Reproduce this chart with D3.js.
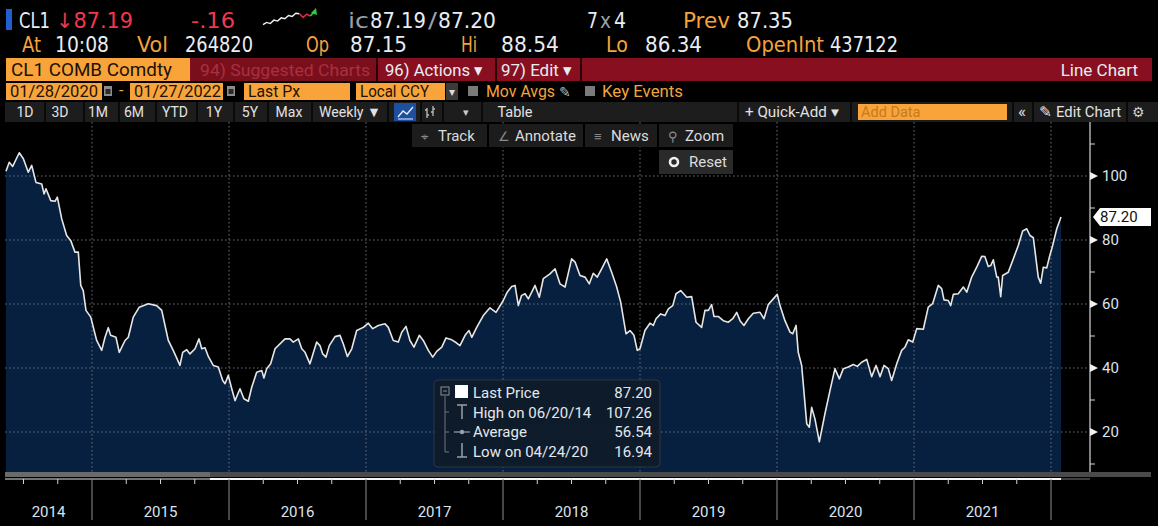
<!DOCTYPE html>
<html>
<head>
<meta charset="utf-8">
<script src="https://cdn.jsdelivr.net/npm/d3@7"></script>
<style>
  body { margin: 0; background: #000; overflow: hidden; }
  svg { display: block; }
  text { font-family: Roboto, "Open Sans", sans-serif; }
</style>
</head>
<body>
<svg id="chart" width="1158" height="526"></svg>
<script>
// CL1 weekly last px (time as decimal year)
var weekT = [
  2014.372, 2014.396, 2014.421, 2014.469, 2014.499, 2014.535, 2014.560, 2014.591, 2014.633, 2014.650,
  2014.664, 2014.699, 2014.730, 2014.747, 2014.779, 2014.815, 2014.845, 2014.876, 2014.900, 2014.918,
  2014.936, 2014.956, 2014.991, 2015.034, 2015.071, 2015.095, 2015.119, 2015.136, 2015.175, 2015.199,
  2015.241, 2015.265, 2015.301, 2015.345, 2015.411, 2015.472, 2015.509, 2015.557, 2015.593, 2015.642,
  2015.662, 2015.691, 2015.715, 2015.752, 2015.781, 2015.801, 2015.825, 2015.849, 2015.885, 2015.922,
  2015.954, 2015.971, 2015.995, 2016.020, 2016.044, 2016.080, 2016.109, 2016.141, 2016.166, 2016.202,
  2016.239, 2016.255, 2016.275, 2016.304, 2016.336, 2016.409, 2016.445, 2016.469, 2016.506, 2016.531,
  2016.555, 2016.591, 2016.640, 2016.664, 2016.684, 2016.708, 2016.732, 2016.774, 2016.810, 2016.834,
  2016.864, 2016.896, 2016.932, 2016.980, 2017.017, 2017.049, 2017.090, 2017.139, 2017.163, 2017.199,
  2017.236, 2017.261, 2017.292, 2017.321, 2017.350, 2017.389, 2017.418, 2017.455, 2017.487, 2017.516,
  2017.553, 2017.584, 2017.626, 2017.662, 2017.686, 2017.723, 2017.752, 2017.772, 2017.808, 2017.856,
  2017.905, 2017.949, 2018.002, 2018.031, 2018.064, 2018.088, 2018.112, 2018.136, 2018.161, 2018.185,
  2018.234, 2018.265, 2018.294, 2018.343, 2018.380, 2018.416, 2018.453, 2018.501, 2018.526, 2018.562,
  2018.599, 2018.630, 2018.659, 2018.688, 2018.720, 2018.757, 2018.793, 2018.830, 2018.859, 2018.898,
  2018.927, 2018.956, 2018.980, 2019.000, 2019.036, 2019.073, 2019.097, 2019.117, 2019.151, 2019.182,
  2019.207, 2019.239, 2019.263, 2019.297, 2019.341, 2019.377, 2019.409, 2019.450, 2019.474, 2019.499,
  2019.523, 2019.540, 2019.571, 2019.608, 2019.645, 2019.677, 2019.706, 2019.730, 2019.759, 2019.791,
  2019.827, 2019.876, 2019.905, 2019.936, 2019.973, 2020.002, 2020.022, 2020.058, 2020.095, 2020.115,
  2020.139, 2020.155, 2020.180, 2020.217, 2020.236, 2020.253, 2020.277, 2020.309, 2020.350, 2020.387,
  2020.423, 2020.455, 2020.484, 2020.520, 2020.557, 2020.586, 2020.618, 2020.655, 2020.691, 2020.723,
  2020.752, 2020.781, 2020.812, 2020.837, 2020.874, 2020.910, 2020.934, 2020.958, 2020.991, 2021.020,
  2021.068, 2021.104, 2021.136, 2021.177, 2021.202, 2021.219, 2021.250, 2021.268, 2021.287, 2021.323,
  2021.360, 2021.385, 2021.421, 2021.458, 2021.494, 2021.518, 2021.542, 2021.560, 2021.579, 2021.604,
  2021.615, 2021.633, 2021.647, 2021.688, 2021.725, 2021.761, 2021.793, 2021.823, 2021.847, 2021.871,
  2021.907, 2021.925, 2021.944, 2021.969, 2021.988, 2022.012, 2022.042, 2022.073
];
var lastPx = [
  101.5, 104.3, 103.0, 107.26, 105.4, 101.2, 103.3, 98.0, 97.5, 94.4,
  96.0, 92.3, 92.1, 93.4, 86.6, 81.4, 79.8, 76.2, 76.2, 65.8,
  64.2, 58.0, 55.9, 48.6, 45.5, 49.6, 52.6, 50.2, 49.6, 44.9,
  48.6, 49.6, 55.9, 59.0, 60.1, 59.5, 58.0, 48.6, 45.5, 40.8,
  44.9, 45.7, 44.4, 46.0, 49.1, 46.0, 46.3, 43.6, 40.8, 40.3,
  36.1, 35.1, 37.7, 33.5, 29.8, 33.5, 30.4, 29.6, 34.0, 38.7,
  39.2, 36.9, 39.8, 41.3, 46.0, 49.1, 49.1, 48.1, 49.1, 46.0,
  44.9, 41.3, 48.1, 47.0, 44.4, 43.4, 47.0, 49.8, 50.2, 47.6,
  43.6, 46.0, 51.7, 52.7, 54.0, 52.3, 53.3, 53.8, 52.7, 48.6,
  48.1, 51.2, 53.0, 48.6, 46.5, 50.2, 48.6, 45.5, 43.4, 45.2,
  46.5, 49.4, 48.8, 47.8, 47.0, 50.2, 51.7, 49.6, 52.7, 56.4,
  58.8, 57.4, 61.1, 63.7, 65.5, 65.8, 59.5, 62.7, 63.2, 61.6,
  65.8, 62.1, 67.9, 69.4, 71.0, 66.3, 65.3, 74.1, 73.1, 68.9,
  68.4, 66.3, 69.6, 68.4, 71.0, 74.1, 69.9, 65.3, 60.6, 50.7,
  51.7, 50.2, 45.5, 46.0, 51.7, 54.0, 53.3, 55.4, 56.9, 56.4,
  58.5, 59.5, 63.2, 64.2, 62.1, 62.3, 54.3, 52.7, 58.0, 58.0,
  59.8, 56.1, 56.1, 54.8, 54.3, 55.4, 57.4, 54.8, 53.3, 55.4,
  57.1, 57.4, 55.4, 59.8, 61.6, 63.0, 59.5, 54.8, 51.2, 50.7,
  53.3, 44.9, 40.8, 22.6, 21.5, 27.7, 24.1, 16.94, 25.7, 33.0,
  39.8, 36.6, 39.8, 40.3, 41.1, 40.5, 41.8, 42.7, 37.3, 40.8,
  37.3, 40.8, 39.8, 36.1, 41.3, 45.5, 46.5, 48.8, 48.1, 52.3,
  52.1, 59.0, 60.1, 65.8, 64.8, 61.3, 61.1, 59.5, 63.0, 63.2,
  65.3, 63.7, 68.4, 71.5, 74.9, 74.8, 71.7, 72.0, 73.8, 68.4,
  68.4, 62.3, 68.9, 69.9, 74.1, 78.3, 82.8, 83.5, 81.4, 80.7,
  68.4, 66.5, 71.5, 71.3, 74.6, 78.3, 83.5, 87.20
];

var yearStarts = [2014, 2015, 2016, 2017, 2018, 2019, 2020, 2021, 2022];
var yearLabels = ["2014", "2015", "2016", "2017", "2018", "2019", "2020", "2021"];
var yMajor = [20, 40, 60, 80, 100];
var yMinor = [10, 30, 50, 70, 90, 110];

var legendNames = ["Last Price", "High on 06/20/14", "Average", "Low on 04/24/20"];
var legendVals = ["87.20", "107.26", "56.54", "16.94"];

// little intraday sparkline in the header
var sparkVals = [1, 2, 1.5, 3, 2.6, 4, 3.6, 5, 4.6, 6, 5.8, 4.2, 5.6, 4.8, 6.6];

var orange = "#f5a33b", boxOrange = "#f8a43a", ink = "#1d1206";
var white = "#e8edf3", red = "#f2374d";

var svg = d3.select("#chart");

function txt(g, x, y, s, o) {
  o = o || {};
  var t = g.append("text")
    .attr("x", x).attr("y", y)
    .attr("fill", o.fill || white)
    .attr("font-size", o.size || 16)
    .attr("text-anchor", o.anchor || "start")
    .text(s);
  if (o.w) t.attr("textLength", o.w).attr("lengthAdjust", "spacingAndGlyphs");
  if (o.family) t.style("font-family", o.family);
  if (o.weight) t.attr("font-weight", o.weight);
  return t;
}

/* ---------- header: quote lines ---------- */
var hdr = svg.append("g");
var mono = "'DejaVu Sans', sans-serif";
hdr.append("rect").attr("x", 6).attr("y", 9).attr("width", 6).attr("height", 21).attr("fill", "#1f5fd0");

var row1 = [
  ["CL1", 19, 31, white], ["\u219387.19", 56, 77, red], ["-.16", 191, 44, red],
  ["ic", 348, 21, "#9aa0a8"], ["87.19", 370, 56, white], ["/", 428, 9, "#9aa0a8"], ["87.20", 438, 58, white],
  ["7", 587, 11, white], ["x", 600, 11, "#9aa0a8"], ["4", 614, 12, white],
  ["Prev", 683, 47, orange], ["87.35", 737, 56, white]
];
row1.forEach(function(d) { txt(hdr, d[1], 28, d[0], { fill: d[3], size: 21, w: d[2], family: mono }); });

var row2 = [
  ["At", 22, 19, orange], ["10:08", 55, 54, white], ["Vol", 137, 31, orange], ["264820", 185, 68, white],
  ["Op", 306, 23, orange], ["87.15", 350, 57, white], ["Hi", 461, 16, orange], ["88.54", 501, 58, white],
  ["Lo", 606, 22, orange], ["86.34", 645, 57, white], ["OpenInt", 746, 78, orange], ["437122", 830, 68, white]
];
row2.forEach(function(d) { txt(hdr, d[1], 52, d[0], { fill: d[3], size: 21, w: d[2], family: mono }); });

// sparkline
var sx = d3.scaleLinear().domain([0, sparkVals.length - 1]).range([263, 314]);
var sy = d3.scaleLinear().domain([0, 7]).range([27, 11]);
var sLine = d3.line().x(function(d, i) { return sx(i); }).y(function(d) { return sy(d); });
hdr.append("path").datum(sparkVals.slice(0, 11)).attr("d", sLine)
  .attr("fill", "none").attr("stroke", "#f2f2f2").attr("stroke-width", 1.4);
hdr.append("path").datum(sparkVals.slice(10, 14))
  .attr("d", d3.line().x(function(d, i) { return sx(i + 10); }).y(function(d) { return sy(d); }))
  .attr("fill", "none").attr("stroke", "#e8263a").attr("stroke-width", 1.6);
hdr.append("path")
  .attr("d", "M" + sx(13) + "," + sy(4.8) + "L" + sx(14) + "," + sy(6.6))
  .attr("stroke", "#2ecc40").attr("stroke-width", 1.6);
hdr.append("path")
  .attr("d", "M" + (sx(14) - 3) + "," + (sy(6.6) + 1) + "L" + (sx(14) + 2) + "," + (sy(6.6) - 4) + "L" + (sx(14) + 3) + "," + (sy(6.6) + 3) + "Z")
  .attr("fill", "#2ecc40");

/* ---------- row 3: security + red menu bar ---------- */
var r3 = svg.append("g");
r3.append("rect").attr("x", 6).attr("y", 58).attr("width", 184).attr("height", 23).attr("fill", boxOrange);
txt(r3, 11, 76, "CL1 COMB Comdty", { fill: ink, size: 18, w: 161 });
r3.append("rect").attr("x", 190).attr("y", 58).attr("width", 962).attr("height", 23).attr("fill", "#870f1f");
r3.append("rect").attr("x", 191).attr("y", 58).attr("width", 185).attr("height", 23).attr("fill", "#7a0f1c");
[376, 495, 580].forEach(function(x) {
  r3.append("rect").attr("x", x).attr("y", 58).attr("width", 2).attr("height", 23).attr("fill", "#2a0308");
});
txt(r3, 200, 76, "94) Suggested Charts", { fill: "#a8303f", size: 17, w: 170 });
txt(r3, 385, 76, "96) Actions \u25BE", { fill: white, size: 17, w: 98 });
txt(r3, 501, 76, "97) Edit \u25BE", { fill: white, size: 17, w: 71 });
txt(r3, 1138, 76, "Line Chart", { fill: white, size: 17, anchor: "end" });

/* ---------- row 4: date range / fields ---------- */
var r4 = svg.append("g");
function obox(x, w, s, tw) {
  r4.append("rect").attr("x", x).attr("y", 83).attr("width", w).attr("height", 17).attr("fill", boxOrange);
  txt(r4, x + 4, 97, s, { fill: ink, size: 16, w: tw });
}
function calIcon(x) {
  r4.append("rect").attr("x", x).attr("y", 86).attr("width", 8).attr("height", 10).attr("fill", "#8c8c8c");
  r4.append("rect").attr("x", x + 1.5).attr("y", 89).attr("width", 5).attr("height", 5).attr("fill", "#2a2a2a");
}
obox(6, 96, "01/28/2020", 88);
calIcon(104);
txt(r4, 119, 96, "-", { fill: orange, size: 16 });
obox(130, 93, "01/27/2022", 87);
calIcon(227);
obox(244, 106, "Last Px", 52);
obox(356, 89, "Local CCY", 69);
r4.append("rect").attr("x", 446).attr("y", 83).attr("width", 12).attr("height", 17).attr("fill", "#3a3a3a");
txt(r4, 452, 96, "\u25BE", { fill: "#ddd", size: 12, anchor: "middle" });
r4.append("rect").attr("x", 468).attr("y", 86).attr("width", 10).attr("height", 10).attr("fill", "#7a7a7a");
txt(r4, 486, 97, "Mov Avgs", { fill: orange, size: 16, w: 69 });
txt(r4, 559, 97, "\u270E", { fill: "#bbb", size: 14 });
r4.append("rect").attr("x", 585).attr("y", 86).attr("width", 10).attr("height", 10).attr("fill", "#7a7a7a");
txt(r4, 602, 97, "Key Events", { fill: orange, size: 16, w: 81 });

/* ---------- row 5: toolbar ---------- */
var r5 = svg.append("g");
r5.append("rect").attr("x", 5).attr("y", 102).attr("width", 1153).attr("height", 20).attr("fill", "#1d1d1d");
[44, 83, 118, 155, 196, 233, 267, 311, 387, 420, 442, 481, 737, 850, 1012, 1032, 1126].forEach(function(x) {
  r5.append("rect").attr("x", x).attr("y", 102).attr("width", 2).attr("height", 20).attr("fill", "#0a0a0a");
});
var tools = [["1D", 25], ["3D", 60], ["1M", 98], ["6M", 134], ["YTD", 175], ["1Y", 214], ["5Y", 250], ["Max", 289]];
tools.forEach(function(d) { txt(r5, d[1], 117, d[0], { fill: "#e2e2e2", size: 14, anchor: "middle" }); });
txt(r5, 319, 117, "Weekly \u25BC", { fill: "#e2e2e2", size: 14.5, w: 62 });
r5.append("rect").attr("x", 394).attr("y", 103).attr("width", 22).attr("height", 18).attr("fill", "#1d4f9e");
r5.append("path").attr("d", "M398,117 L403,111 L407,114 L413,107").attr("fill", "none")
  .attr("stroke", "#eaf0ff").attr("stroke-width", 1.3);
r5.append("path").attr("d", "M398,119 H413").attr("stroke", "#eaf0ff").attr("stroke-width", 1);
r5.append("path").attr("d", "M427,108 V118 M425,110 H427 M427,115 H429 M433,106 V116 M431,112 H433 M433,109 H435")
  .attr("stroke", "#bdbdbd").attr("stroke-width", 1.3).attr("fill", "none");
txt(r5, 466, 116, "\u25BE", { fill: "#ccc", size: 11, anchor: "middle" });
txt(r5, 515, 117, "Table", { fill: "#e2e2e2", size: 14.5, anchor: "middle" });
txt(r5, 745, 117, "+ Quick-Add \u25BE", { fill: "#e2e2e2", size: 14.5, w: 94 });
r5.append("rect").attr("x", 858).attr("y", 104).attr("width", 149).attr("height", 16).attr("fill", boxOrange);
txt(r5, 861, 117, "Add Data", { fill: "#c47a1c", size: 14.5 });
txt(r5, 1022, 117, "\u00AB", { fill: "#e2e2e2", size: 17, anchor: "middle" });
txt(r5, 1039, 117, "\u270E Edit Chart", { fill: "#e2e2e2", size: 14.5, w: 82 });
txt(r5, 1138, 117, "\u2699", { fill: "#d0d0d0", size: 14, anchor: "middle" });

/* ---------- chart ---------- */
var plotTop = 122, plotBottom = 472, plotLeft = 5, axisX = 1090;

var x = d3.scaleLinear().domain([2015, 2022]).range([92, 1051]);
var y = d3.scaleLinear().domain([20, 100]).range([432, 176]);

var series = weekT.map(function(t, i) { return { t: t, v: lastPx[i] }; });

svg.append("path").datum(series)
  .attr("d", d3.area().x(function(d) { return x(d.t); }).y0(plotBottom).y1(function(d) { return y(d.v); }))
  .attr("fill", "#08203f");

// dotted grid
var grid = svg.append("g").attr("stroke", "#6b717a").attr("stroke-width", 1).attr("stroke-dasharray", "1.5,2.5");
grid.selectAll("line.h").data(yMajor).enter().append("line")
  .attr("x1", plotLeft).attr("x2", axisX - 2)
  .attr("y1", function(d) { return y(d); }).attr("y2", function(d) { return y(d); });
grid.selectAll("line.v").data(yearStarts.slice(1)).enter().append("line")
  .attr("y1", plotTop).attr("y2", plotBottom)
  .attr("x1", function(d) { return x(d); }).attr("x2", function(d) { return x(d); });

svg.append("path").datum(series)
  .attr("d", d3.line().x(function(d) { return x(d.t); }).y(function(d) { return y(d.v); }))
  .attr("fill", "none").attr("stroke", "#e6e6e6").attr("stroke-width", 1.6)
  .attr("stroke-linejoin", "round");

/* floating chart buttons */
var fb = svg.append("g");
var fbtn = [["\u2316", "Track", 412, 75], ["\u2220", "Annotate", 489, 94], ["\u2261", "News", 585, 72], ["\u26B2", "Zoom", 659, 74]];
fbtn.forEach(function(d) {
  fb.append("rect").attr("x", d[2]).attr("y", 124).attr("width", d[3]).attr("height", 23).attr("fill", "#1c1c1c");
  txt(fb, d[2] + 9, 141, d[0], { fill: "#8a8a8a", size: 13 });
  txt(fb, d[2] + 26, 141, d[1], { fill: "#dcdcdc", size: 15 });
});
fb.append("rect").attr("x", 659).attr("y", 150).attr("width", 74).attr("height", 24).attr("fill", "#2a2a2a");
fb.append("circle").attr("cx", 674).attr("cy", 162).attr("r", 4).attr("fill", "none")
  .attr("stroke", "#f0f0f0").attr("stroke-width", 2.6);
txt(fb, 689, 167, "Reset", { fill: "#dcdcdc", size: 15 });

/* legend */
var lg = svg.append("g");
lg.append("rect").attr("x", 434).attr("y", 380).attr("width", 226).attr("height", 87).attr("rx", 4)
  .attr("fill", "#101b29").attr("fill-opacity", 0.9).attr("stroke", "#2d3642");
lg.append("rect").attr("x", 441).attr("y", 387).attr("width", 8).attr("height", 8).attr("fill", "none").attr("stroke", "#8a8f96");
lg.append("line").attr("x1", 443).attr("x2", 447).attr("y1", 391).attr("y2", 391).attr("stroke", "#8a8f96");
lg.append("path").attr("d", "M445,396 V452 M445,412 H449 M445,432 H449 M445,452 H449")
  .attr("stroke", "#6f757c").attr("fill", "none");
lg.append("rect").attr("x", 455).attr("y", 385).attr("width", 13).attr("height", 13).attr("fill", "#fff");
lg.append("path").attr("d", "M457,405 H467 M462,405 V419").attr("stroke", "#9aa0a8").attr("stroke-width", 1.5);
lg.append("path").attr("d", "M454,432 H470").attr("stroke", "#9aa0a8").attr("stroke-width", 1.2);
lg.append("circle").attr("cx", 462).attr("cy", 432).attr("r", 2.2).attr("fill", "#9aa0a8");
lg.append("path").attr("d", "M462,443 V457 M457,457 H467").attr("stroke", "#9aa0a8").attr("stroke-width", 1.5);
legendNames.forEach(function(n, i) {
  var yy = 398 + i * 19.5;
  txt(lg, 473, yy, n, { fill: "#e4e8ee", size: 15 });
  txt(lg, 652, yy, legendVals[i], { fill: "#e4e8ee", size: 15, anchor: "end" });
});

/* right value axis */
var ax = svg.append("g");
ax.append("line").attr("x1", axisX).attr("x2", axisX).attr("y1", plotTop).attr("y2", plotBottom)
  .attr("stroke", "#d8d8d8").attr("stroke-width", 1.2);
ax.selectAll("line.mn").data(yMinor).enter().append("line")
  .attr("x1", axisX).attr("x2", axisX + 5)
  .attr("y1", function(d) { return y(d); }).attr("y2", function(d) { return y(d); })
  .attr("stroke", "#d8d8d8");
ax.selectAll("path.mj").data(yMajor).enter().append("path")
  .attr("d", function(d) { var yy = y(d); return "M" + axisX + "," + (yy - 4) + "L" + (axisX + 8) + "," + yy + "L" + axisX + "," + (yy + 4) + "Z"; })
  .attr("fill", "#f0f0f0");
var yAxis = d3.axisRight(y).tickValues(yMajor).tickSize(0).tickPadding(12);
var yg = svg.append("g").attr("transform", "translate(" + axisX + ",0)").call(yAxis);
yg.select(".domain").remove();
yg.selectAll("text").attr("fill", "#dbe3ee").attr("font-size", 15).style("font-family", "Roboto, sans-serif");

// last price tag
var lastY = y(lastPx[lastPx.length - 1]);
ax.append("path")
  .attr("d", "M1093," + lastY + "L1100," + (lastY - 9) + "H1151V" + (lastY + 9) + "H1100Z")
  .attr("fill", "#fff");
txt(ax, 1100, lastY + 5.5, legendVals[0], { fill: "#111", size: 15 });

/* bottom time axis */
var bt = svg.append("g");
bt.append("rect").attr("x", plotLeft).attr("y", plotBottom).attr("width", 1146).attr("height", 5).attr("fill", "#4a4a4a");
bt.append("rect").attr("x", plotLeft).attr("y", plotBottom).attr("width", 205).attr("height", 5).attr("fill", "#6a6a6a");
bt.append("line").attr("x1", plotLeft).attr("x2", 210).attr("y1", 479).attr("y2", 479).attr("stroke", "#9a9a9a").attr("stroke-width", 1.5);
bt.append("line").attr("x1", 210).attr("x2", x(weekT[weekT.length - 1])).attr("y1", 479).attr("y2", 479).attr("stroke", "#f4f4f4").attr("stroke-width", 1.8);
bt.append("line").attr("x1", x(weekT[weekT.length - 1])).attr("x2", axisX).attr("y1", 479).attr("y2", 479).attr("stroke", "#555").attr("stroke-width", 1.5);

var quarters = [];
yearStarts.forEach(function(yr) { [0.25, 0.5, 0.75].forEach(function(q) { quarters.push(yr + q); }); });
bt.selectAll("line.q").data(quarters.filter(function(q) { return x(q) > plotLeft && x(q) < axisX - 30; }))
  .enter().append("line")
  .attr("x1", function(d) { return x(d); }).attr("x2", function(d) { return x(d); })
  .attr("y1", 479).attr("y2", 484).attr("stroke", "#d0d0d0");
bt.selectAll("line.yr").data(yearStarts.slice(1)).enter().append("line")
  .attr("x1", function(d) { return x(d); }).attr("x2", function(d) { return x(d); })
  .attr("y1", 479).attr("y2", 520).attr("stroke", "#8d8d8d");
bt.selectAll("text.yl").data(yearLabels).enter().append("text")
  .attr("x", function(d, i) { var a = Math.max(x(yearStarts[i]), plotLeft); return (a + x(yearStarts[i + 1])) / 2; })
  .attr("y", 517)
  .attr("text-anchor", "middle")
  .attr("fill", "#dbe3ee").attr("font-size", 15)
  .text(function(d) { return d; });
</script>
</body>
</html>
